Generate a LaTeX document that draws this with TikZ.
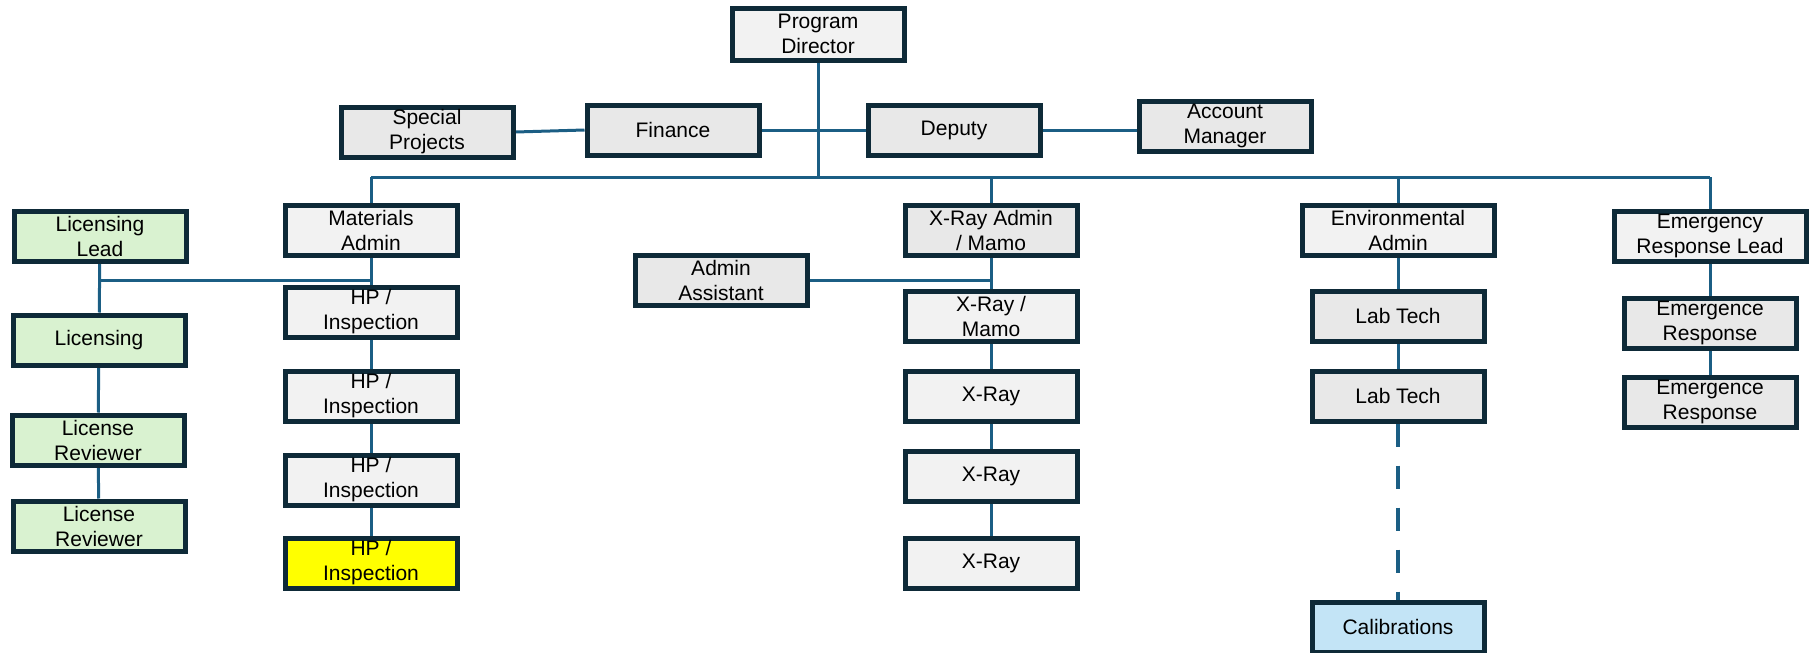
\documentclass[tikz,border=0pt]{standalone}
\usepackage{fontspec}
\setmainfont{Liberation Sans}
\usepackage{xcolor}
\usetikzlibrary{backgrounds}
\definecolor{boxline}{HTML}{0E2A38}
\definecolor{wire}{HTML}{1B5E84}
\definecolor{paleg}{HTML}{F2F2F2}
\definecolor{midg}{HTML}{E8E8E8}
\definecolor{licgreen}{HTML}{D9F2D0}
\definecolor{calblue}{HTML}{C3E4F6}
\definecolor{hpyellow}{HTML}{FFFF00}

\begin{document}
\begin{tikzpicture}[x=1pt, y=-1pt,
    unit/.style={draw=boxline, line width=5pt, fill=paleg, minimum width=172pt,
      minimum height=50pt, inner sep=2pt, align=center,
      font=\fontsize{21}{25}\selectfont},
    link/.style={wire, line width=3pt}]
    \useasboundingbox (0,0) rectangle (1812,653);

    % top row
    \node[unit, minimum height=52pt] (pd) at (818,34) {Program\\Director};
    \node[unit, fill=midg] (sp) at (427,132) {Special\\Projects};
    \node[unit, fill=midg] (fin) at (673,130) {Finance};
    \node[unit, fill=midg] (dep) at (954,130) {Deputy};
    \node[unit, fill=midg] (acct) at (1225,126) {Account\\Manager};

    % heads of the branches
    \node[unit] (mat) at (371,230) {Materials\\Admin};
    \node[unit, fill=midg] (xadm) at (991,230) {X-Ray Admin\\/ Mamo};
    \node[unit, minimum width=192pt] (env) at (1398,230) {Environmental\\Admin};
    \node[unit, minimum width=192pt] (erl) at (1710,236) {Emergency\\Response Lead};

    % licensing
    \node[unit, fill=licgreen] (lead) at (100,236) {Licensing\\Lead};
    \node[unit, fill=licgreen] (lic) at (99,340) {Licensing};
    \node[unit, fill=licgreen] (lr1) at (98,440) {License\\Reviewer};
    \node[unit, fill=licgreen] (lr2) at (99,526) {License\\Reviewer};

    % materials
    \foreach \n/\y in {hp1/312, hp2/396, hp3/480}
        \node[unit] (\n) at (371,\y) {HP /\\Inspection};
    \node[unit, fill=hpyellow] (hp4) at (371,563) {HP /\\Inspection};

    % x-ray
    \node[unit, fill=midg] (asst) at (721,280) {Admin\\Assistant};
    \node[unit] (xm) at (991,316) {X-Ray /\\Mamo};
    \foreach \n/\y in {xr1/396, xr2/476, xr3/563}
        \node[unit] (\n) at (991,\y) {X-Ray};

    % environmental
    \node[unit, fill=midg] (lt1) at (1398,316) {Lab Tech};
    \node[unit, fill=midg] (lt2) at (1398,396) {Lab Tech};
    \node[unit, fill=calblue] (cal) at (1398,627) {Calibrations};

    % emergency
    \node[unit, fill=midg] (er1) at (1710,323) {Emergence\\Response};
    \node[unit, fill=midg] (er2) at (1710,402) {Emergence\\Response};

    \coordinate (busL) at (371,177);
    \coordinate (busR) at (1710,177);
    \coordinate (mj) at (371,280);
    \coordinate (xj) at (991,280);

    \begin{scope}[on background layer]
        \draw[link] (busL) -- (busR);
        \draw[link] (pd) -- (pd |- busL);
        \draw[link] (sp.east) -- (fin.west);
        \draw[link] (fin.east) -- (dep.west);
        \draw[link] (dep.east) -- (dep.east -| acct.west);
        \foreach \t in {mat, xadm, env, erl}
            \draw[link] (\t |- busL) -- (\t);
        \foreach \a/\b in {mat/hp1, hp1/hp2, hp2/hp3, hp3/hp4, lead/lic, lic/lr1,
                           lr1/lr2, xadm/xm, xm/xr1, xr1/xr2, xr2/xr3, env/lt1,
                           lt1/lt2, erl/er1, er1/er2}
            \draw[link] (\a) -- (\b);
        \draw[link] (mj -| lead) -- (mj);
        \draw[link] (asst) -- (xj);
        \draw[link, line width=4pt, dash pattern=on 23pt off 19pt] (lt2) -- (cal);
    \end{scope}
\end{tikzpicture}
\end{document}
